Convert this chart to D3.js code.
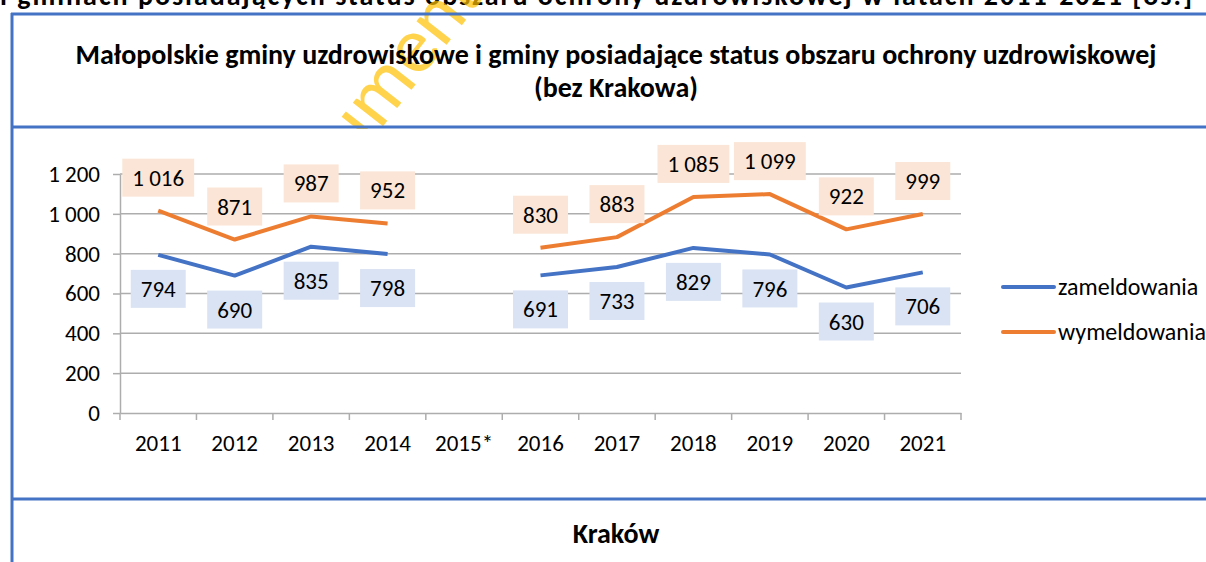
<!DOCTYPE html>
<html>
<head>
<meta charset="utf-8">
<script src="https://cdn.jsdelivr.net/npm/d3@7"></script>
<style>
  body { margin: 0; background: #fff; }
  svg { display: block; font-family: Carlito, Calibri, Lato, "Open Sans", sans-serif; }
</style>
</head>
<body>
<svg id="chart" width="1206" height="562"></svg>
<script>
var years = ["2011", "2012", "2013", "2014", "2015*", "2016", "2017", "2018", "2019", "2020", "2021"];
var zameldowania = [794, 690, 835, 798, null, 691, 733, 829, 796, 630, 706];
var wymeldowania = [1016, 871, 987, 952, null, 830, 883, 1085, 1099, 922, 999];
var yTicks = [0, 200, 400, 600, 800, 1000, 1200];
var seriesNames = ["zameldowania", "wymeldowania"];

var pl = d3.formatLocale({decimal: ",", thousands: " ", grouping: [3], currency: ["", " zł"]});
var fmt = pl.format(",d");

var svg = d3.select("#chart");
var blue = "#4472C4", orange = "#ED7D31", gridColor = "#ADADAD";

// header text cut off at the top of the screenshot
svg.append("text")
  .attr("x", 0).attr("y", 5)
  .attr("textLength", 1192)
  .style("font-size", "28px").style("font-weight", "bold")
  .text("i gminach posiadających status obszaru ochrony uzdrowiskowej w latach 2011-2021 [os.]");

// watermark
svg.append("text")
  .attr("transform", "translate(280,258) rotate(-52)")
  .attr("fill", "#FFC000").attr("fill-opacity", 0.7)
  .style("font-size", "80px")
  .text("dokument");

// white chart area hides the watermark
svg.append("rect").attr("x", 14).attr("y", 129).attr("width", 1192).attr("height", 368).attr("fill", "#fff");

// table frame
var frame = svg.append("g").attr("stroke", blue).attr("stroke-width", 3);
frame.append("line").attr("x1", 12).attr("x2", 12).attr("y1", 13).attr("y2", 562);
[14, 127, 499].forEach(function(yy) {
  frame.append("line").attr("x1", 11).attr("x2", 1206).attr("y1", yy).attr("y2", yy);
});

function heading(txt, yy) {
  svg.append("text")
    .attr("x", 616).attr("y", yy)
    .attr("text-anchor", "middle")
    .style("font-size", "28px").style("font-weight", "bold")
    .text(txt);
}
heading("Małopolskie gminy uzdrowiskowe i gminy posiadające status obszaru ochrony uzdrowiskowej", 64);
heading("(bez Krakowa)", 97);
heading("Kraków", 543);

// plot
var x = d3.scaleBand().domain(years).range([120, 961]);
var y = d3.scaleLinear().domain([0, 1200]).range([413, 174]);

var grid = svg.append("g");
grid.selectAll("line")
  .data(yTicks.filter(function(d) { return d > 0; }))
  .enter().append("line")
  .attr("x1", 120).attr("x2", 961)
  .attr("y1", function(d) { return y(d); })
  .attr("y2", function(d) { return y(d); })
  .attr("stroke", gridColor).attr("stroke-width", 1.5);

var yAxis = d3.axisLeft(y).tickValues(yTicks).tickFormat(fmt).tickSizeInner(7).tickSizeOuter(0).tickPadding(13);
var gy = svg.append("g").attr("transform", "translate(120,0)").call(yAxis);
gy.attr("font-family", null).attr("font-size", null);
gy.selectAll("line, path").attr("stroke", gridColor).attr("stroke-width", 1.5);
gy.selectAll("text").style("font-size", "23px").attr("fill", "#000");

var xAxis = d3.axisBottom(x).tickSize(0).tickPadding(22);
var gx = svg.append("g").attr("transform", "translate(0,413)").call(xAxis);
gx.attr("font-family", null).attr("font-size", null);
gx.select("path").attr("stroke", gridColor).attr("stroke-width", 1.5);
gx.selectAll("text").style("font-size", "23px").attr("fill", "#000");
// category boundary ticks
gx.selectAll(".bound")
  .data(years.map(function(d) { return x(d); }).concat([x.range()[1]]))
  .enter().append("line")
  .attr("class", "bound")
  .attr("x1", function(d) { return d; }).attr("x2", function(d) { return d; })
  .attr("y1", 0).attr("y2", 7)
  .attr("stroke", gridColor).attr("stroke-width", 1.5);

function cx(i) { return x(years[i]) + x.bandwidth() / 2; }

var line = d3.line()
  .defined(function(d) { return d != null; })
  .x(function(d, i) { return cx(i); })
  .y(function(d) { return y(d); });

svg.append("path").datum(wymeldowania)
  .attr("d", line).attr("fill", "none")
  .attr("stroke", orange).attr("stroke-width", 4).attr("stroke-linejoin", "round");
svg.append("path").datum(zameldowania)
  .attr("d", line).attr("fill", "none")
  .attr("stroke", blue).attr("stroke-width", 4).attr("stroke-linejoin", "round");

// data labels
function drawLabels(values, dy, bg) {
  var g = svg.append("g");
  values.forEach(function(v, i) {
    if (v == null) return;
    var lg = g.append("g").attr("transform", "translate(" + cx(i) + "," + (y(v) + dy) + ")");
    var rect = lg.append("rect").attr("fill", bg);
    var t = lg.append("text")
      .attr("text-anchor", "middle").attr("dy", "0.35em")
      .style("font-size", "23px")
      .text(fmt(v));
    var w = t.node().getComputedTextLength();
    rect.attr("x", -w / 2 - 10).attr("width", w + 20)
      .attr("y", -19).attr("height", 38);
  });
}
drawLabels(wymeldowania, -33, "#FBE5D6");
drawLabels(zameldowania, 34, "#DAE3F3");

// legend
var legend = svg.append("g");
[blue, orange].forEach(function(c, i) {
  var ly = 287 + i * 45;
  legend.append("line")
    .attr("x1", 1003).attr("x2", 1054).attr("y1", ly).attr("y2", ly)
    .attr("stroke", c).attr("stroke-width", 4).attr("stroke-linecap", "round");
  legend.append("text")
    .attr("x", 1058).attr("y", ly).attr("dy", "0.35em")
    .style("font-size", "24px")
    .text(seriesNames[i]);
});
</script>
</body>
</html>
